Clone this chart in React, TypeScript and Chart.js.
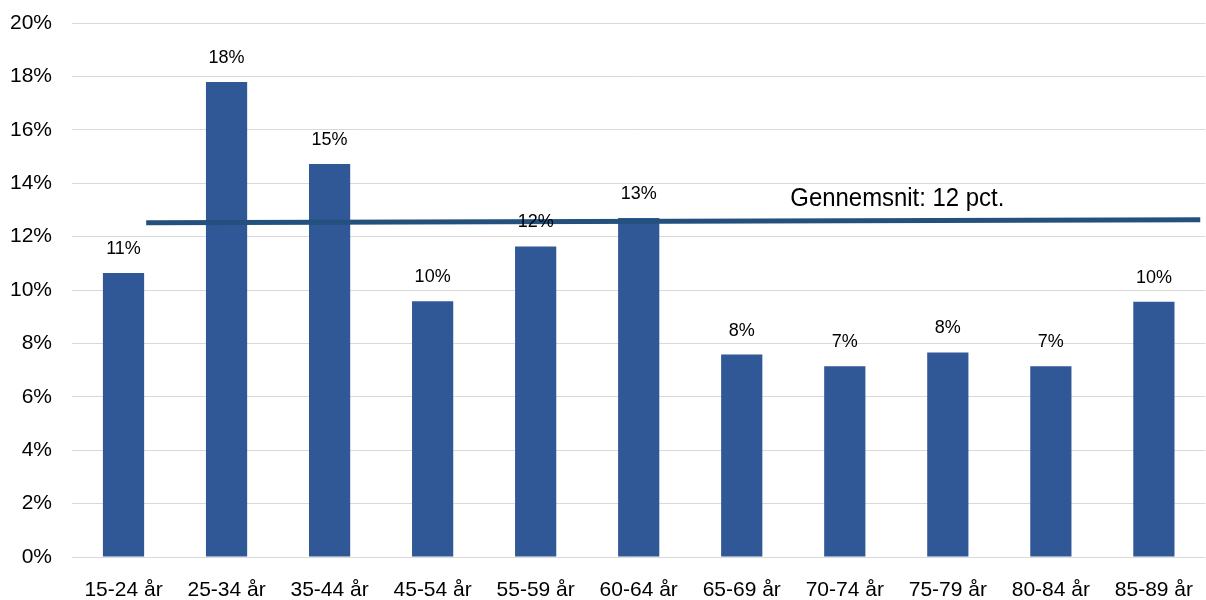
import React, { useEffect, useRef } from "react";
import { Chart, registerables } from "chart.js";

Chart.register(...registerables);

const categories = [
  "15-24 år", "25-34 år", "35-44 år", "45-54 år", "55-59 år", "60-64 år",
  "65-69 år", "70-74 år", "75-79 år", "80-84 år", "85-89 år",
];
const shares = [10.64, 17.79, 14.72, 9.58, 11.63, 12.7, 7.58, 7.14, 7.66, 7.14, 9.56];
const shareLabels = ["11%", "18%", "15%", "10%", "12%", "13%", "8%", "7%", "8%", "7%", "10%"];
const averageLine = [
  { x: 0.22, y: 12.52 },
  { x: 10.45, y: 12.63 },
];
const averageLabel = "Gennemsnit: 12 pct.";
const averageLabelPos = { x: 7.51, y: 13.42 };
const yTicks = [0, 2, 4, 6, 8, 10, 12, 14, 16, 18, 20];

const labelsPlugin = {
  id: "customLabels",
  afterDatasetsDraw(chart: any) {
    const { ctx } = chart;
    const meta = chart.getDatasetMeta(0);
    ctx.save();
    ctx.fillStyle = "#000";
    ctx.font = '18px "Liberation Sans", Arial, sans-serif';
    ctx.textAlign = "center";
    ctx.textBaseline = "middle";
    meta.data.forEach((bar: any, i: number) => {
      ctx.fillText(shareLabels[i], bar.x, bar.y - 24);
    });
    const xs = chart.scales.x2;
    const ys = chart.scales.y;
    const px = xs.getPixelForValue(averageLabelPos.x);
    const py = ys.getPixelForValue(averageLabelPos.y);
    ctx.font = '26px "Liberation Sans Narrow", "Arial Narrow", "Liberation Sans", sans-serif';
    const w = ctx.measureText(averageLabel).width;
    const target = 214;
    ctx.translate(px, py);
    ctx.scale(target / w, 1);
    ctx.fillText(averageLabel, 0, 0);
    ctx.restore();
  },
};

export default function App() {
  const ref = useRef<HTMLCanvasElement>(null);
  useEffect(() => {
    document.body.style.margin = "0";
    const chart = new Chart(ref.current!, {
      type: "bar",
      data: {
        labels: categories,
        datasets: [
          {
            type: "bar",
            data: shares,
            backgroundColor: "#305796",
            borderWidth: 0,
            barPercentage: 0.4,
            categoryPercentage: 1,
            grouped: false,
            xAxisID: "x",
            order: 2,
          } as any,
          {
            type: "line",
            data: averageLine,
            xAxisID: "x2",
            borderColor: "#24507e",
            borderWidth: 5,
            pointRadius: 0,
            fill: false,
            order: 1,
          } as any,
        ],
      },
      options: {
        animation: false,
        responsive: false,
        maintainAspectRatio: false,
        layout: { padding: { top: 23, right: 0, left: 0, bottom: 0 } },
        plugins: { legend: { display: false }, tooltip: { enabled: false } },
        scales: {
          x: {
            type: "category",
            grid: { display: false },
            border: { display: false },
            ticks: {
              color: "#000",
              font: { family: '"Liberation Sans", Arial, sans-serif', size: 21 },
              padding: 13,
              maxRotation: 0,
              autoSkip: false,
            },
            afterFit(scale: any) {
              scale.height = 43;
            },
          },
          x2: {
            type: "linear",
            display: false,
            offset: false,
            min: -0.5,
            max: 10.5,
          },
          y: {
            min: 0,
            max: 20,
            afterBuildTicks(scale: any) {
              scale.ticks = yTicks.map((v) => ({ value: v }));
            },
            grid: {
              color: "#d9d9d9",
              lineWidth: 1,
              drawTicks: true,
              tickLength: 20,
              tickColor: "rgba(0,0,0,0)",
            },
            border: { display: false },
            ticks: {
              color: "#000",
              font: { family: '"Liberation Sans", Arial, sans-serif', size: 21 },
              padding: 0,
              callback: (v: any) => `${v}%`,
            },
            afterFit(scale: any) {
              scale.width = 72;
            },
          },
        },
      },
      plugins: [labelsPlugin],
    });
    return () => chart.destroy();
  }, []);
  return (
    <div style={{ position: "fixed", left: 0, top: 0, width: 1206, height: 600, background: "#fff" }}>
      <canvas ref={ref} width={1206} height={600} style={{ width: 1206, height: 600 }} />
    </div>
  );
}
